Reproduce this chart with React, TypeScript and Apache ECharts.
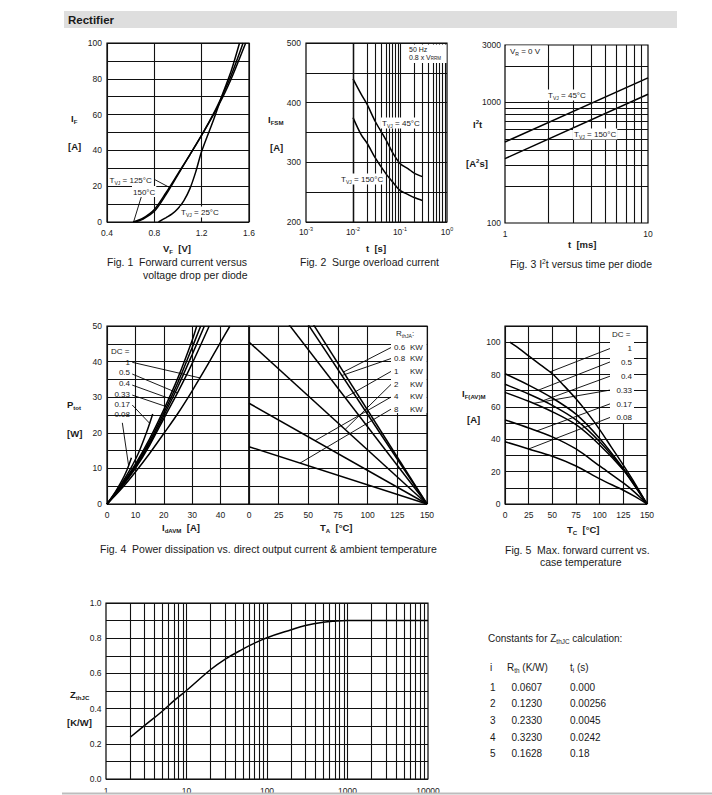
import React, { useEffect, useRef } from 'react';
import * as echarts from 'echarts';

const FONT = "'Liberation Sans', Arial, Helvetica, sans-serif";
const INK = '#1a1a1a';
const GRIDC = '#111';

// ---------- Fig. 1  Forward current vs voltage drop ----------
const f1V25 = [0.835, 0.9, 0.95, 1.0, 1.05, 1.1, 1.15, 1.2, 1.3, 1.38, 1.45, 1.52];
const f1I25 = [0, 2.5, 4.5, 7.5, 12, 18.5, 28, 39.5, 57, 72, 84.5, 100];
const f1V125 = [0.64, 0.7, 0.8, 0.9, 1.0, 1.1, 1.2, 1.3, 1.38, 1.45, 1.55];
const f1I125 = [0, 1.5, 6, 15.5, 26.5, 37.5, 48.5, 60.5, 71.5, 82, 100];
const f1V150 = [0.62, 0.7, 0.8, 0.9, 1.0, 1.1, 1.2, 1.3, 1.38, 1.45, 1.572];
const f1I150 = [0, 2, 7, 16.5, 27, 37.5, 48.5, 60, 70, 80, 100];

// ---------- Fig. 2  Surge overload current ----------
const f2T = [0.01, 0.015, 0.02, 0.03, 0.05, 0.07, 0.1, 0.15, 0.2, 0.3];
const f2I45 = [440, 414, 397, 368, 338, 316, 298, 289, 282, 276];
const f2I150 = [375, 346, 332, 307, 281, 267, 253, 246, 241, 236];

// ---------- Fig. 3  I2t versus time ----------
const f3T = [1, 10];
const f3I45 = [470, 1600];
const f3I150 = [342, 1170];

// ---------- Fig. 4  Power dissipation (left: vs IdAVM) ----------
const f4I1 = [0, 5, 10, 15, 20, 25, 30, 35, 40, 43.3];
const f4P1 = [0, 4.2, 9, 14.2, 19.8, 25.5, 31.8, 38.5, 45.5, 50];
const f4I05 = [0, 5, 10, 15, 20, 25, 30, 36];
const f4P05 = [0, 4.6, 10, 16.5, 24, 31.5, 39.5, 50];
const f4I04 = [0, 5, 10, 15, 20, 25, 30, 34.3];
const f4P04 = [0, 4.8, 10.4, 17, 24.8, 33, 42, 50];
const f4I033 = [0, 5, 10, 15, 20, 25, 30, 33];
const f4P033 = [0, 5, 10.8, 17.6, 25.6, 34.2, 44, 50];
const f4Ib = [0, 5, 10, 15, 20, 25, 30, 31.6];
const f4Pb = [0, 5.2, 11.2, 18.3, 26.5, 35.5, 46, 50];
const f4I017 = [0, 5, 8, 11, 14, 16.1];
const f4P017 = [0, 5.6, 9.5, 14.2, 20.3, 25.3];
const f4I008 = [0, 3, 5, 7, 8.6];
const f4P008 = [0, 3.5, 6.2, 9.5, 13];
const f4DcLabels = ['1', '0.5', '0.4', '0.33', '0.17', '0.08'];

// ---------- Fig. 4  right: vs ambient temperature ----------
const f4RthLabels = ['0.6', '0.8', '1', '2', '4', '8'];
const f4P0 = [79, 75.5, 65, 45.5, 28.3, 16.1];
const f4TA = [0, 150];

// ---------- Fig. 5  Max forward current vs case temperature ----------
const f5T1 = [5, 15, 25, 37.5, 50, 62.5, 75, 87.5, 100, 112.5, 125, 137.5, 150];
const f5I1 = [100, 96, 91.5, 86, 80.5, 73, 65, 56, 46, 35, 24, 12.5, 0];
const f5T = [0, 25, 50, 75, 100, 125, 137.5, 150];
const f5I05 = [80.5, 73.5, 65.5, 55.5, 40.5, 22, 11.5, 0];
const f5I04 = [74, 68, 61, 52, 38.5, 21.5, 11, 0];
const f5I033 = [69, 63.5, 57, 49, 36.5, 21, 10.8, 0];
const f5I017 = [52, 47, 41.5, 34, 23.5, 13, 7, 0];
const f5I008 = [38.5, 34, 29.5, 23.5, 15.5, 8.5, 4.5, 0];
const f5DcLabels = ['1', '0.5', '0.4', '0.33', '0.17', '0.08'];

// ---------- Transient thermal impedance ----------
const zT = [2, 3, 5, 7, 10, 20, 30, 50, 70, 100, 200, 300, 500, 700, 1000, 2000, 5000, 10000];
const zZ = [0.237, 0.303, 0.385, 0.445, 0.503, 0.622, 0.68, 0.738, 0.772, 0.803, 0.848, 0.872, 0.891, 0.897, 0.9, 0.9, 0.9, 0.9];

// ---------- Table ----------
const tabI = ['1', '2', '3', '4', '5'];
const tabR = ['0.0607', '0.1230', '0.2330', '0.3230', '0.1628'];
const tabT = ['0.000', '0.00256', '0.0045', '0.0242', '0.18'];

const zip = (xs: number[], ys: number[]) => xs.map((x, i) => [x, ys[i]]);
const interp = (xs: number[], ys: number[], x: number) => {
  for (let i = 0; i < xs.length - 1; i++) {
    if (x >= xs[i] && x <= xs[i + 1]) {
      const t = (x - xs[i]) / (xs[i + 1] - xs[i]);
      return ys[i] + t * (ys[i + 1] - ys[i]);
    }
  }
  return ys[ys.length - 1];
};
const logMinor = (from: number, to: number) => {
  const out: number[] = [];
  for (let e = from; e < to; e++) {
    for (let k = 1; k <= 9; k++) {
      if (e === from && k === 1) continue;
      out.push(+(k * Math.pow(10, e)).toPrecision(6));
    }
  }
  return out;
};

const richFor = (size: number, bold = false, key: 'fill' | 'color' = 'fill', lh?: number) => {
  const w = bold ? 'bold' : 'normal';
  const sub = Math.round(size * 0.64 * 10) / 10;
  return {
    n: { fontSize: size, fontFamily: FONT, fontWeight: w, [key]: INK, lineHeight: lh ?? Math.round(size * 1.25) },
    s: { fontSize: sub, fontFamily: FONT, fontWeight: w, [key]: INK, lineHeight: Math.round(sub), verticalAlign: 'bottom' },
    u: { fontSize: sub, fontFamily: FONT, fontWeight: w, [key]: INK, lineHeight: Math.round(sub), verticalAlign: 'top' },
  };
};

function T(x: number, y: number, text: string, o: any = {}) {
  const size = o.size ?? 8;
  const bold = !!o.bold;
  const style: any = {
    text,
    fill: INK,
    fontSize: size,
    fontFamily: FONT,
    fontWeight: bold ? 'bold' : 'normal',
    align: o.align ?? 'left',
    verticalAlign: 'middle',
    rich: richFor(size, bold, 'fill', o.lh),
  };
  if (o.lh) style.lineHeight = o.lh;
  if (o.bg) {
    style.backgroundColor = o.bg;
    style.padding = o.pad ?? [1, 1, 0, 1];
  }
  return { type: 'text', x, y, z: 100, silent: true, style };
}
const rectEl = (x: number, y: number, w: number, h: number, fill = '#fff', z = 99) => ({
  type: 'rect', z, silent: true, shape: { x, y, width: w, height: h }, style: { fill },
});

export default function App() {
  const ref = useRef<HTMLDivElement>(null);
  useEffect(() => {
    if (!ref.current) return;
    const chart = echarts.init(ref.current, null, { renderer: 'svg' });

    const grids = [
      { left: 107, top: 43, width: 142, height: 179 },
      { left: 306, top: 43, width: 141, height: 179 },
      { left: 505, top: 45, width: 143, height: 178 },
      { left: 107, top: 326, width: 142, height: 178 },
      { left: 249, top: 326, width: 178, height: 178 },
      { left: 505, top: 326, width: 142, height: 178 },
      { left: 106, top: 603, width: 322, height: 179 },
    ].map((g) => ({ ...g, show: true, borderColor: '#000', borderWidth: 1.2, backgroundColor: 'transparent' }));

    const lab = { color: INK, fontSize: 8.5, fontFamily: FONT };
    const base = { axisLine: { show: false }, axisTick: { show: false } };
    const lin = { ...base, splitLine: { show: true, lineStyle: { color: GRIDC, width: 1.1 } } };
    const noSplit = { ...base, splitLine: { show: false } };
    const powRich = richFor(8.5, false, 'color');
    const pow10 = (v: number) => `{n|10}{u|${Math.round(Math.log10(v))}}`;
    const intFmt = (v: number) => String(Math.round(v));

    const xAxis: any[] = [
      { gridIndex: 0, type: 'value', min: 0.4, max: 1.6, interval: 0.4, ...lin, axisLabel: { ...lab, margin: 6, formatter: (v: number) => v.toFixed(1) } },
      { gridIndex: 1, type: 'log', logBase: 10, min: 0.001, max: 1, ...noSplit, axisLabel: { ...lab, margin: 4, formatter: pow10, rich: powRich } },
      { gridIndex: 2, type: 'log', logBase: 10, min: 1, max: 10, ...noSplit, axisLabel: { ...lab, margin: 6, formatter: intFmt } },
      { gridIndex: 3, type: 'value', min: 0, max: 50, interval: 10, ...lin, axisLabel: { ...lab, margin: 6, interval: 0, formatter: (v: number) => (v === 50 ? '' : String(v)) } },
      { gridIndex: 4, type: 'value', min: 0, max: 150, interval: 25, ...lin, axisLabel: { ...lab, margin: 6, interval: 0 } },
      { gridIndex: 5, type: 'value', min: 0, max: 150, interval: 25, ...lin, axisLabel: { ...lab, margin: 6, interval: 0 } },
      { gridIndex: 6, type: 'log', logBase: 10, min: 1, max: 10000, ...noSplit, axisLabel: { ...lab, margin: 7, formatter: intFmt } },
    ];
    const yAxis: any[] = [
      { gridIndex: 0, type: 'value', min: 0, max: 100, interval: 10, ...lin, axisLabel: { ...lab, margin: 5, formatter: (v: number) => (v % 20 === 0 ? String(v) : '') } },
      { gridIndex: 1, type: 'value', min: 200, max: 500, interval: 50, ...lin, axisLabel: { ...lab, margin: 5, formatter: (v: number) => (v % 100 === 0 ? String(v) : '') } },
      { gridIndex: 2, type: 'log', logBase: 10, min: 100, max: 3000, ...noSplit, axisLabel: { ...lab, margin: 4, customValues: [100, 1000, 3000], formatter: intFmt } },
      { gridIndex: 3, type: 'value', min: 0, max: 50, interval: 5, ...lin, axisLabel: { ...lab, margin: 5, formatter: (v: number) => (v % 10 === 0 ? String(v) : '') } },
      { gridIndex: 4, type: 'value', min: 0, max: 50, interval: 5, ...lin, axisLabel: { show: false } },
      { gridIndex: 5, type: 'value', min: 0, max: 110, interval: 10, ...lin, axisLabel: { ...lab, margin: 4.5, formatter: (v: number) => (v % 20 === 0 && v <= 100 ? String(v) : '') } },
      { gridIndex: 6, type: 'value', min: 0, max: 1, interval: 0.1, ...lin, axisLabel: { ...lab, margin: 4.5, formatter: (v: number) => (Math.round(v * 10) % 2 === 0 ? v.toFixed(1) : '') } },
    ];

    const curve = (idx: number, xs: number[], ys: number[], smooth = 0.3) => ({
      type: 'line', xAxisIndex: idx, yAxisIndex: idx, data: zip(xs, ys), symbol: 'none', smooth,
      silent: true, z: 3, lineStyle: { color: '#000', width: 1.5 },
    });
    const leader = (idx: number, a: number[], b: number[]) => ({
      type: 'line', xAxisIndex: idx, yAxisIndex: idx, data: [a, b], symbol: 'none', silent: true, z: 3,
      lineStyle: { color: '#000', width: 0.9 },
    });
    const gridMarks = (idx: number, xs: number[], ys: number[], anchor: number[]) => ({
      type: 'line', xAxisIndex: idx, yAxisIndex: idx, data: [anchor], symbol: 'none', silent: true,
      lineStyle: { opacity: 0 },
      markLine: {
        silent: true, symbol: ['none', 'none'], label: { show: false }, animation: false,
        lineStyle: { color: GRIDC, width: 1.1, type: 'solid' },
        emphasis: { disabled: true },
        data: [...xs.map((v) => ({ xAxis: v })), ...ys.map((v) => ({ yAxis: v }))],
      },
    });

    const series: any[] = [
      gridMarks(1, logMinor(-3, 0), [], [0.001, 200]),
      gridMarks(2, logMinor(0, 1), [...logMinor(2, 3), 1000, 2000], [1, 100]),
      gridMarks(6, logMinor(0, 4), [], [1, 0]),
      // Fig. 1
      curve(0, f1V25, f1I25),
      curve(0, f1V125, f1I125),
      curve(0, f1V150, f1I150),
      leader(0, [0.806, 23.6], [0.933, interp(f1V125, f1I125, 0.933)]),
      leader(0, [0.695, 15.2], [0.625, interp(f1V150, f1I150, 0.625)]),
      // Fig. 2
      curve(1, f2T, f2I45),
      curve(1, f2T, f2I150),
      // Fig. 3
      curve(2, f3T, f3I45, 0),
      curve(2, f3T, f3I150, 0),
      // Fig. 4 left
      curve(3, f4I1, f4P1),
      curve(3, f4I05, f4P05),
      curve(3, f4I04, f4P04),
      curve(3, f4I033, f4P033),
      curve(3, f4Ib, f4Pb),
      curve(3, f4I017, f4P017),
      curve(3, f4I008, f4P008),
      leader(3, [8.9, 39.8], [32.7, interp(f4I1, f4P1, 32.7)]),
      leader(3, [8.9, 36.5], [24.8, interp(f4I05, f4P05, 24.8)]),
      leader(3, [8.9, 33.4], [22.8, interp(f4I04, f4P04, 22.8)]),
      leader(3, [8.9, 30.6], [21, interp(f4I033, f4P033, 21)]),
      leader(3, [8.9, 27.8], [15, interp(f4I017, f4P017, 15)]),
      leader(3, [5.4, 22.8], [7.6, interp(f4I008, f4P008, 7.6)]),
      // Fig. 4 right
      ...f4P0.map((p0) => curve(4, f4TA, [p0, 0], 0)),
      ...[44, 40.9, 37.3, 33.7, 30.1, 26.7].map((p, i) => {
        const te = [79.6, 78.3, 81, 81, 55.7, 43][i];
        return leader(4, [120, p], [te, interp(f4TA, [f4P0[i], 0], te)]);
      }),
      // Fig. 5
      curve(5, f5T1, f5I1),
      curve(5, f5T, f5I05),
      curve(5, f5T, f5I04),
      curve(5, f5T, f5I033),
      curve(5, f5T, f5I017),
      curve(5, f5T, f5I008),
      ...[96.1, 87.8, 79.0, 70.4, 61.9, 53.5].map((iv, i) => {
        const te = [47.5, 35, 40, 30, 33.5, 25][i];
        const ys = [f5I1, f5I05, f5I04, f5I033, f5I017, f5I008][i];
        const xs = i === 0 ? f5T1 : f5T;
        return leader(5, [111, iv], [te, interp(xs, ys, te)]);
      }),
      // Zth
      curve(6, zT, zZ, 0.4),
    ];

    const tvj = (v: string) => `{n|T}{s|VJ}{n| = ${v}}`;
    const elements: any[] = [
      rectEl(64, 11, 613, 17, '#dedede', 90),
      T(68, 19.5, 'Rectifier', { size: 11.5, bold: true }),
      // Fig 1
      T(108.5, 180, tvj('125°C'), { bg: '#fff' }),
      T(132, 191.5, '{n|150°C}', { bg: '#fff' }),
      T(180, 212, tvj('25°C'), { bg: '#fff' }),
      T(71, 118, '{n|I}{s|F}', { size: 9.5, bold: true }),
      T(68, 146, '{n|[A]}', { size: 9.5, bold: true }),
      T(163, 248, '{n|V}{s|F}{n|  [V]}', { size: 9.5, bold: true }),
      T(107, 262, 'Fig. 1  Forward current versus', { size: 10.5 }),
      T(143, 275, 'voltage drop per diode', { size: 10.5 }),
      // Fig 2
      T(381, 123, tvj('45°C'), { bg: '#fff' }),
      T(340, 179, tvj('150°C'), { bg: '#fff' }),
      rectEl(406.5, 44.5, 40, 18.5),
      T(409, 49.8, '{n|50 Hz}', { size: 7, lh: 7 }),
      T(409, 57, '{n|0.8 x V}{s|RRM}', { size: 7, lh: 7 }),
      T(268, 119, '{n|I}{s|FSM}', { size: 9.5, bold: true }),
      T(270, 147, '{n|[A]}', { size: 9.5, bold: true }),
      T(366, 248, '{n|t  [s]}', { size: 9.5, bold: true }),
      T(300, 262, 'Fig. 2  Surge overload current', { size: 10.5 }),
      // Fig 3
      rectEl(506, 45.5, 41.5, 13),
      T(510, 51.5, '{n|V}{s|R}{n| = 0 V}', { size: 8 }),
      T(547, 95, tvj('45°C'), { bg: '#fff' }),
      T(573, 134, tvj('150°C'), { bg: '#fff' }),
      T(473, 124, '{n|I}{u|2}{n|t}', { size: 9.5, bold: true }),
      T(466, 163, '{n|[A}{u|2}{n|s]}', { size: 9.5, bold: true }),
      T(568, 244, '{n|t  [ms]}', { size: 9.5, bold: true }),
      T(510, 264, '{n|Fig. 3 I}{u|2}{n|t versus time per diode}', { size: 10.5 }),
      // Fig 4
      T(111, 351, '{n|DC =}'),
      ...f4DcLabels.map((l, i) => T(130, [362, 372.3, 383.3, 394, 404.3, 414.3][i], `{n|${l}}`, { align: 'right' })),
      rectEl(391, 327, 35.5, 86),
      T(396, 333, '{n|R}{s|thJA}{n|:}'),
      ...f4RthLabels.map((l, i) => T(394, [347.3, 358.3, 371, 384, 396.7, 409][i], `{n|${l}}`)),
      ...f4RthLabels.map((_, i) => T(410, [347.3, 358.3, 371, 384, 396.7, 409][i], '{n|KW}')),
      T(67, 404, '{n|P}{s|tot}', { size: 9.5, bold: true }),
      T(67, 433, '{n|[W]}', { size: 9.5, bold: true }),
      T(162, 527, '{n|I}{s|dAVM}{n|  [A]}', { size: 9.5, bold: true }),
      T(320, 527, '{n|T}{s|A}{n|  [°C]}', { size: 9.5, bold: true }),
      T(100, 549, 'Fig. 4  Power dissipation vs. direct output current & ambient temperature', { size: 10.5 }),
      // Fig 5
      rectEl(610, 327, 24, 96),
      T(612, 334, '{n|DC =}'),
      ...f5DcLabels.map((l, i) => T(632, [348.3, 362, 376, 390, 404, 417.5][i], `{n|${l}}`, { align: 'right' })),
      T(462, 393, '{n|I}{s|F(AV)M}', { size: 9.5, bold: true }),
      T(467, 419, '{n|[A]}', { size: 9.5, bold: true }),
      T(567, 529, '{n|T}{s|C}{n|  [°C]}', { size: 9.5, bold: true }),
      T(505, 550, 'Fig. 5  Max. forward current vs.', { size: 10.5 }),
      T(540, 561.5, 'case temperature', { size: 10.5 }),
      // Zth
      T(70, 694, '{n|Z}{s|thJC}', { size: 9.5, bold: true }),
      T(67, 722, '{n|[K/W]}', { size: 9.5, bold: true }),
      // Table
      T(488, 638, '{n|Constants for Z}{s|thJC}{n| calculation:}', { size: 10 }),
      T(490, 667, '{n|i}', { size: 10 }),
      T(507, 667, '{n|R}{s|th}{n| (K/W)}', { size: 10 }),
      T(570, 667, '{n|t}{s|i}{n| (s)}', { size: 10 }),
      ...tabI.map((v, i) => T(490, [687, 703.5, 720, 737, 753.5][i], `{n|${v}}`, { size: 10 })),
      ...tabR.map((v, i) => T(511.5, [687, 703.5, 720, 737, 753.5][i], `{n|${v}}`, { size: 10 })),
      ...tabT.map((v, i) => T(570, [687, 703.5, 720, 737, 753.5][i], `{n|${v}}`, { size: 10 })),
      rectEl(62, 792.5, 650, 2, '#bdbdbd', 120),
    ];

    chart.setOption({
      animation: false,
      textStyle: { fontFamily: FONT },
      grid: grids,
      xAxis,
      yAxis,
      series,
      graphic: { elements },
    });
    return () => chart.dispose();
  }, []);

  return (
    <div
      ref={ref}
      style={{ position: 'absolute', left: 0, top: 0, width: 712, height: 795, background: '#fff' }}
    />
  );
}
